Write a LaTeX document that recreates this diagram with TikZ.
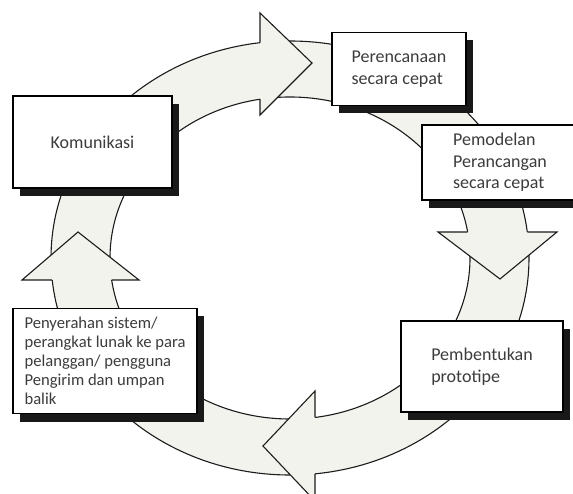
\documentclass[tikz,border=0pt]{standalone}
\usepackage{fontspec}
\setmainfont{Carlito}
\usetikzlibrary{shadows}
\definecolor{bandfill}{RGB}{242,243,237}
\definecolor{bandline}{RGB}{28,28,28}
\definecolor{txt}{RGB}{60,60,60}
\tikzset{
  band/.style={fill=bandfill, draw=bandline, line width=1.1pt, line join=miter},
  stagebox/.style={rectangle, draw=black, line width=1.8pt, fill=white, inner sep=0pt,
    align=left, text=txt, font=\fontsize{18}{21.5}\selectfont,
    drop shadow={shadow xshift=7pt, shadow yshift=-8pt, opacity=1, fill=black!90}},
  smalltext/.style={font=\fontsize{16.6}{19}\selectfont}
}
\begin{document}
\begin{tikzpicture}[x=1pt,y=-1pt]
\useasboundingbox (0,0) rectangle (573,494);
% ring band
\fill[bandfill, even odd rule] (290,258) ellipse [x radius=239, y radius=217]
                               (290,258) ellipse [x radius=180, y radius=161];
\draw[bandline, line width=1.1pt] (290,258) ellipse [x radius=239, y radius=217];
\draw[bandline, line width=1.1pt] (290,258) ellipse [x radius=180, y radius=161];
% arrowheads
\filldraw[band] (260,42.72) -- (260,13) -- (312,63) -- (260,115) -- (260,99.25);
\filldraw[band] (467.64,232) -- (438,232) -- (500,279) -- (557,232) -- (527.28,232);
\filldraw[band] (315,417.44) -- (315,391) -- (263,446) -- (315,501) -- (315,473.81);
\filldraw[band] (111.69,280) -- (139,280) -- (78,232) -- (22,280) -- (52.23,280);
% boxes
\node[stagebox, minimum width=159pt, minimum height=92pt] (kom) at (92.5,142) {Komunikasi};
\node[stagebox, minimum width=134pt, minimum height=73pt] (ren) at (399,69) {Perencanaan\\secara cepat};
\node[stagebox, minimum width=156pt, minimum height=75pt] (mod) at (500,162.5) {Pemodelan\\Perancangan\\secara cepat};
\node[stagebox, minimum width=162pt, minimum height=91pt] (bent) at (482,366.5) {Pembentukan\\prototipe};
\node[stagebox, smalltext, minimum width=184pt, minimum height=105pt] (serah) at (105,361) {Penyerahan sistem/\\perangkat lunak ke para\\pelanggan/ pengguna\\Pengirim dan umpan\\balik};
\end{tikzpicture}
\end{document}
